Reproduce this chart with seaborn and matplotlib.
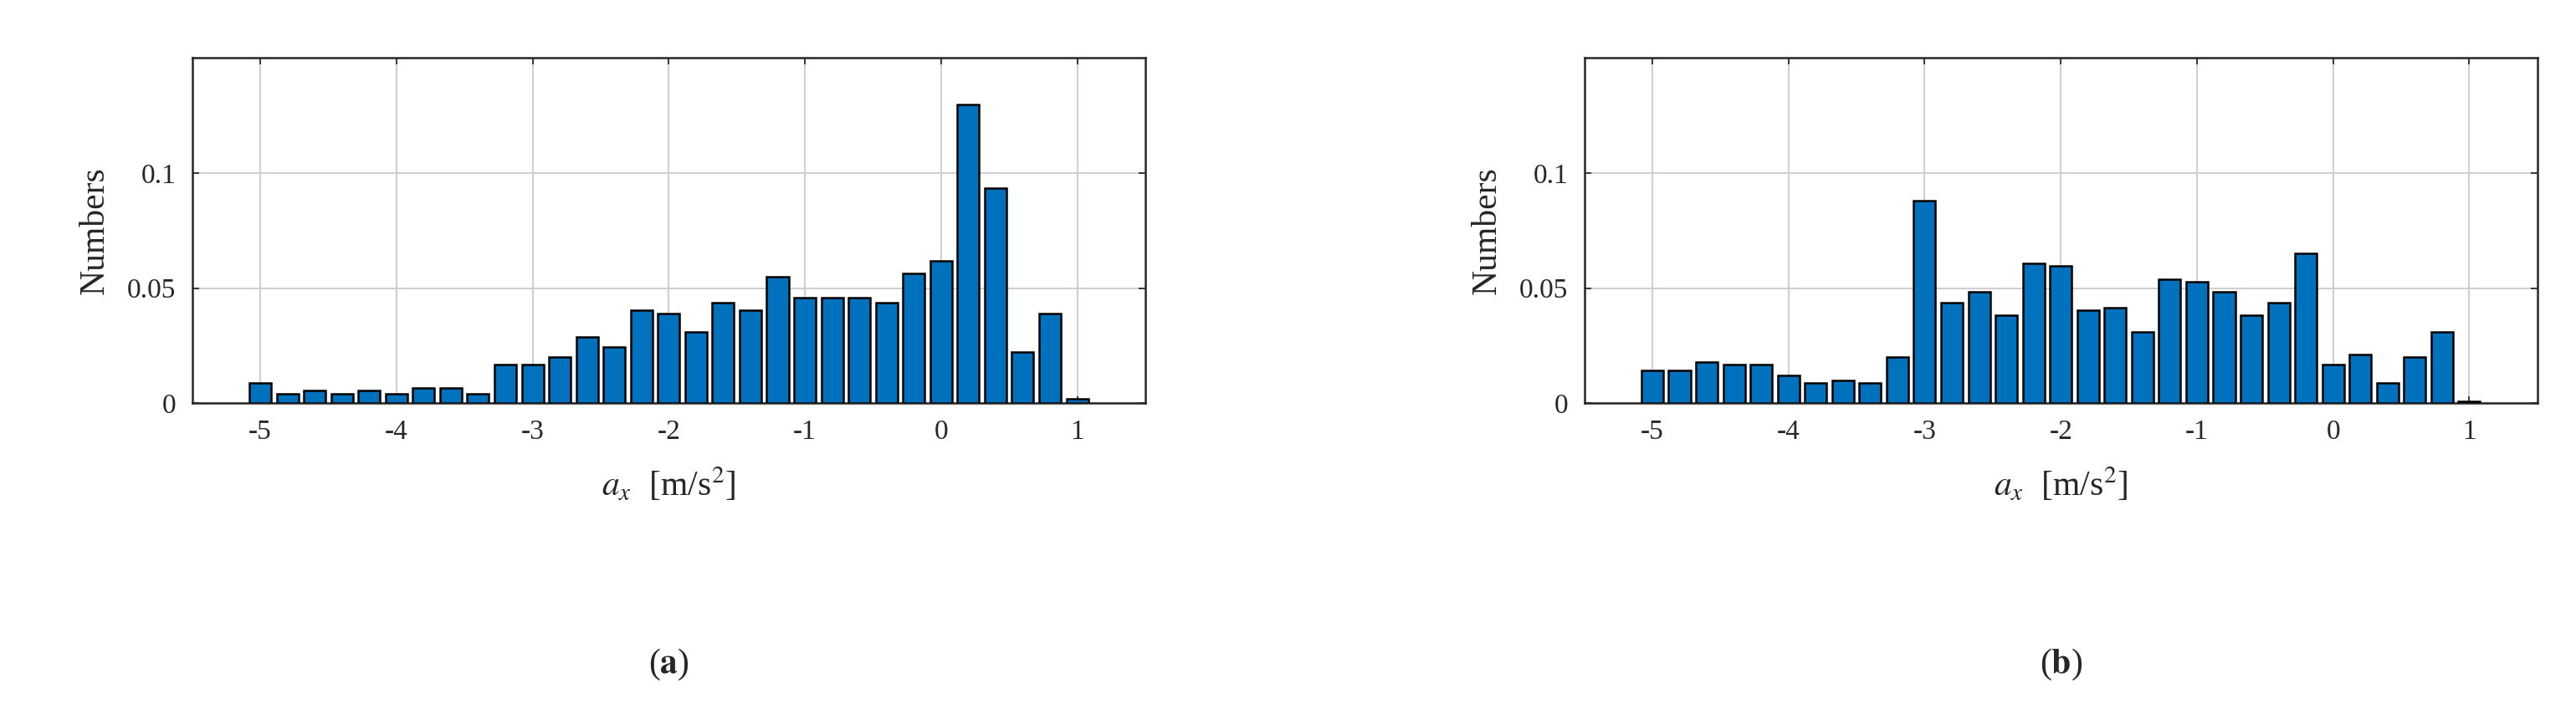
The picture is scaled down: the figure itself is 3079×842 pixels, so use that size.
import numpy as np
import pandas as pd
import matplotlib
matplotlib.use("Agg")
import matplotlib.pyplot as plt
import seaborn as sns

ax_bins = [-5.0, -4.8, -4.6, -4.4, -4.2, -4.0, -3.8, -3.6, -3.4, -3.2, -3.0, -2.8, -2.6, -2.4, -2.2, -2.0,
           -1.8, -1.6, -1.4, -1.2, -1.0, -0.8, -0.6, -0.4, -0.2, 0.0, 0.2, 0.4, 0.6, 0.8, 1.0]
numbers_a = [0.0089, 0.0043, 0.0055, 0.0043, 0.0055, 0.0043, 0.0067, 0.0067, 0.0043, 0.0167, 0.0167,
             0.020, 0.029, 0.0246, 0.0405, 0.039, 0.031, 0.0438, 0.0405, 0.055, 0.046, 0.046, 0.046,
             0.0438, 0.0563, 0.0618, 0.1296, 0.0935, 0.0222, 0.039, 0.002]
numbers_b = [0.0145, 0.0145, 0.018, 0.0167, 0.0167, 0.0122, 0.0088, 0.010, 0.0088, 0.020, 0.0878,
             0.0438, 0.0484, 0.0383, 0.0607, 0.0596, 0.0405, 0.0417, 0.031, 0.054, 0.0529, 0.0484,
             0.0383, 0.0438, 0.0652, 0.0167, 0.0212, 0.0088, 0.020, 0.031, 0.001]
xticks = [-5, -4, -3, -2, -1, 0, 1]
yticks = [0, 0.05, 0.1]
ytick_labels = ["0", "0.05", "0.1"]
panel_labels = ["a", "b"]

sns.set_theme(style="white")
plt.rcParams["font.family"] = ["Liberation Serif", "DejaVu Serif"]
plt.rcParams["mathtext.fontset"] = "stix"

fig = plt.figure(figsize=(30.79, 8.42), dpi=100)
lefts = [0.0746, 0.615]
width = 0.370
for i, (vals, lab) in enumerate(zip([numbers_a, numbers_b], panel_labels)):
    ax = fig.add_axes([lefts[i], 0.427, width, 0.491])
    df = pd.DataFrame({"x": ax_bins, "y": vals})
    sns.barplot(data=df, x="x", y="y", native_scale=True, width=0.8, color="#0072BD",
                saturation=1, edgecolor="black", linewidth=1.8, ax=ax, zorder=3)
    ax.set_xlim(-5.5, 1.5)
    ax.set_ylim(0, 0.15)
    ax.set_xticks(xticks)
    ax.set_xticklabels([str(t) for t in xticks])
    ax.set_yticks(yticks)
    ax.set_yticklabels(ytick_labels)
    ax.grid(True, color="#d0d0d0", linewidth=1.5, zorder=0)
    ax.set_axisbelow(True)
    ax.tick_params(direction="in", length=6, labelsize=24, colors="#262626",
                   top=True, right=True, bottom=True, left=True, pad=14)
    for s in ax.spines.values():
        s.set_color("#262626")
        s.set_linewidth(1.8)
    ax.set_xlabel(r"$a_x$  [m/s$^2$]", fontsize=30, color="#262626", labelpad=18)
    ax.set_ylabel("Numbers", fontsize=30, color="#262626", labelpad=14)
    cx = lefts[i] + width / 2
    fig.text(cx, 0.056, f"({lab})", ha="center", va="center", fontsize=30)
    fig.texts[-1].set_text("")
    fig.text(cx, 0.056, r"(" + r"$\mathbf{" + lab + "}$" + ")", ha="center", va="center", fontsize=30)

fig.savefig("out.png", dpi=100)
